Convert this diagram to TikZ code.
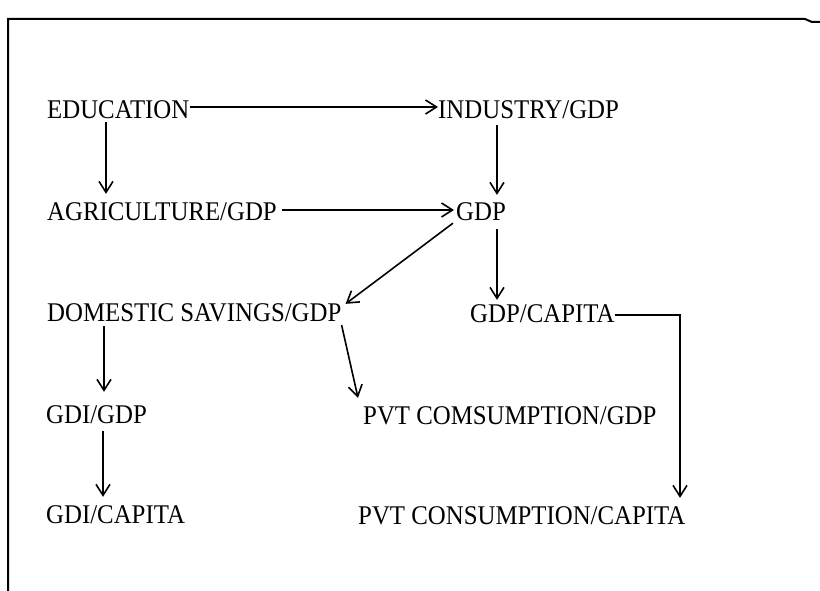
\documentclass[tikz,border=0pt]{standalone}
\usepackage{fontspec}
\setmainfont{Liberation Serif}[FakeStretch=0.92]
\usetikzlibrary{arrows.meta,calc}
\begin{document}
\begin{tikzpicture}[x=1pt,y=-1pt,
  lbl/.style={anchor=west,inner sep=0pt,text height=17.9pt,text depth=0pt,
    font=\fontsize{27}{32}\selectfont},
  arr/.style={-{Straight Barb[length=11pt,width=14pt]},line width=1.6pt},
  frame/.style={line width=2pt}]
\useasboundingbox (0,0) rectangle (820,591);
\fill[white] (0,0) rectangle (820,591);
% frame
\coordinate (ftl) at (8,19);
\coordinate (fbl) at (8,591);
\draw[frame] (fbl) -- (ftl) -- (805,19) -- (812,22) -- (820,22);
% nodes
\node[lbl] (edu)  at (47,110)  {EDUCATION};
\node[lbl] (ind)  at (438,110) {INDUSTRY/GDP};
\node[lbl] (agr)  at (47,212)  {AGRICULTURE/GDP};
\node[lbl] (gdp)  at (456,212) {GDP};
\node[lbl] (dsg)  at (47,313)  {DOMESTIC SAVINGS/GDP};
\node[lbl] (gdpc) at (470,314) {GDP/CAPITA};
\node[lbl] (gdi)  at (46,415)  {GDI/GDP};
\node[lbl] (pvtc) at (363,416) {PVT COMSUMPTION/GDP};
\node[lbl] (gdic) at (46,515)  {GDI/CAPITA};
\node[lbl] (pvcc) at (358,516) {PVT CONSUMPTION/CAPITA};
% connectors
\draw[arr] ($(edu.east)+(0,-3)$) -- ($(ind.west)+(0,-3)$);
\draw[arr] ($(edu.south west)+(59,3)$) -- ($(agr.north west)+(59,-9)$);
\draw[arr] ($(ind.south west)+(59,6)$) -- ($(gdp.north west)+(41,-8)$);
\draw[arr] ($(agr.east)+(5,-2)$) -- ($(gdp.west)+(-2,-2)$);
\draw[arr] ($(gdp.south west)+(-3,2)$) -- ($(dsg.north east)+(4,0)$);
\draw[arr] ($(gdp.south west)+(41,8)$) -- ($(gdpc.north west)+(27,-5)$);
\draw[arr] ($(dsg.south east)+(0,3)$) -- ($(pvtc.north west)+(-5,-9)$);
\draw[arr] ($(dsg.south west)+(57,4)$) -- ($(gdi.north west)+(58,-14)$);
\draw[arr] ($(gdi.south west)+(57,7)$) -- ($(gdic.north west)+(57,-9)$);
\draw[arr] ($(gdpc.east)+(0,1)$) -| ($(pvcc.north west)+(322,-9)$);
\end{tikzpicture}
\end{document}
